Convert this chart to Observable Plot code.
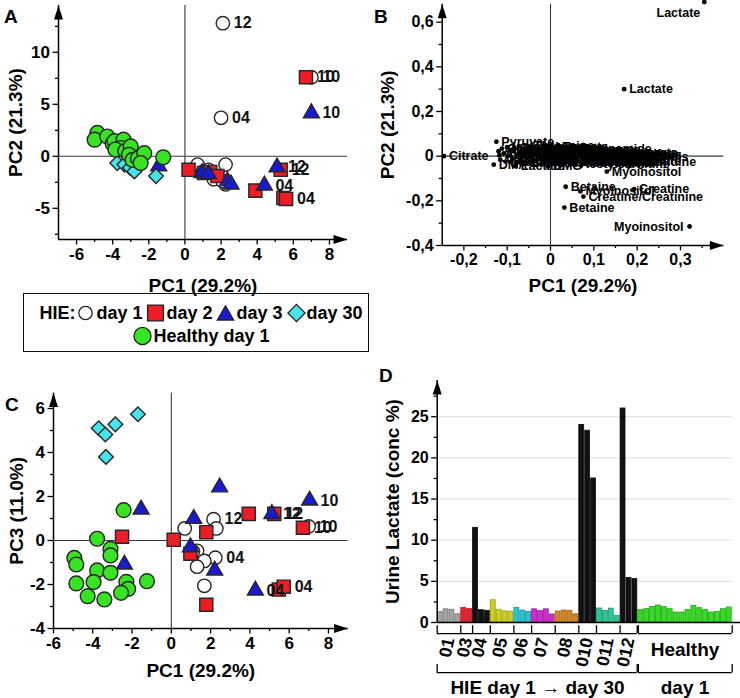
<!DOCTYPE html>
<html>
<head>
<meta charset="utf-8">
<script src="https://cdn.jsdelivr.net/npm/d3@7"></script>
<script src="https://cdn.jsdelivr.net/npm/@observablehq/plot@0.6"></script>
<style>
  html, body { margin: 0; padding: 0; background: #fff; }
  #root { position: relative; width: 740px; height: 698px; overflow: hidden; font-family: "Liberation Sans", Arial, Helvetica, sans-serif; color: #000; }
  .panel { position: absolute; }
  .letter { position: absolute; font-weight: bold; font-size: 19px; line-height: 1; }
  #legend { position: absolute; left: 23px; top: 293px; width: 346px; height: 59px; box-sizing: border-box; border: 1.5px solid #111; font-weight: bold; font-size: 18px; display: flex; flex-direction: column; align-items: center; justify-content: center; padding-top: 4px; padding-left: 10px; }
  #legend .row { display: flex; align-items: center; white-space: nowrap; line-height: 23px; }
  #legend svg { display: block; }
</style>
</head>
<body>
<div id="root"></div>
<script>
const FONT = '"Liberation Sans", Arial, Helvetica, sans-serif';

// ---------------- series definitions ----------------
const seriesNames   = ["HIE day 1", "HIE day 2", "HIE day 3", "HIE day 30", "Healthy day 1"];
const legendPrefix  = "HIE:";
const legendLabels  = ["day 1", "day 2", "day 3", "day 30", "Healthy day 1"];
const seriesSymbols = ["circle", "square", "triangle", "diamond2", "circle"];
const seriesFills   = ["#ffffff", "#ee1c24", "#1a1ad0", "#45e3ec", "#37e322"];

// ---------------- Panel A: scores PC1 vs PC2  [PC1, PC2, patient] ----------------
const aDay1 = [[2.1,12.8,"12"],[2.0,3.7,"04"],[7.0,7.6,"10"],[0.7,-0.8],[1.3,-1.3],[2.25,-0.8],[1.6,-2.2],[2.25,-2.7],[1.0,-1.5],[2.1,-2.4]];
const aDay2 = [[6.7,7.6,"10"],[0.2,-1.3],[1.05,-1.6],[1.4,-1.5],[1.8,-1.9],[3.9,-3.3],[5.3,-1.3,"12"],[5.45,-4.0],[5.6,-4.1,"04"]];
const aDay3 = [[7.0,4.15,"10"],[5.1,-1.05,"12"],[4.4,-2.8,"04"],[0.95,-1.6],[1.3,-1.7],[2.35,-2.4],[2.55,-2.7],[-1.45,-0.95]];
const aDay30 = [[-3.75,-0.65],[-3.35,-0.8],[-3.05,-1.1],[-2.8,-1.45],[-1.6,-1.9]];
const aHealthy = [[-4.85,2.25],[-5.0,1.6],[-4.3,1.9],[-4.0,1.2],[-3.9,1.45],[-3.4,1.6],[-3.55,0.8],[-3.85,0.65],[-3.3,0.5],[-3.0,0.95],[-3.1,0.15],[-2.9,-0.35],[-2.6,-0.2],[-2.25,0.3],[-2.45,-0.65],[-1.2,-0.1]];

// ---------------- Panel C: scores PC1 vs PC3 ----------------
const cDay1 = [[0.68,0.55],[2.15,0.97,"12"],[2.29,0.55],[1.31,-0.47],[1.1,-0.5],[2.24,-0.78,"04"],[1.68,-0.93],[1.31,-1.19],[1.68,-2.06],[6.99,0.64,"10"]];
const cDay2 = [[-2.51,0.17],[0.12,0.03],[0.97,-0.6],[1.78,0.38],[3.94,1.21],[5.24,1.21,"12"],[6.7,0.58,"10"],[5.47,-2.23],[5.72,-2.1,"04"],[1.78,-2.92]];
const cDay3 = [[-1.54,1.41],[-2.39,-1.09],[1.14,0.99],[0.97,-0.3],[2.46,2.42],[2.21,-1.36],[4.28,-2.27,"04"],[5.12,1.21,"12"],[7.04,1.82,"10"]];
const cDay30 = [[-3.7,5.1],[-3.36,4.82],[-2.85,5.28],[-1.7,5.74],[-3.33,3.8]];
const cHealthy = [[-2.43,1.38],[-3.78,0.08],[-3.1,-0.38],[-3.1,-0.68],[-4.94,-0.79],[-4.84,-1.09],[-3.78,-1.36],[-3.1,-1.47],[-4.84,-1.95],[-3.96,-1.89],[-2.29,-1.88],[-1.24,-1.85],[-2.2,-2.2],[-2.56,-2.38],[-4.26,-2.53],[-3.41,-2.68]];

// ---------------- Panel B: loadings [PC1, PC2, metabolite] ----------------
const bLoadings = [
  [-0.246, 0.000, "Citrate"], [-0.125, 0.065, "Pyruvate"], [-0.131, -0.038, "DMA"],
  [-0.080, -0.044, "Lactate"], [-0.006, -0.046, "DMG"],
  [-0.120, 0.022, "Acetone"], [-0.118, 0.004, "Alanine"], [-0.116, -0.016, "Valine"],
  [-0.112, 0.034, "Glycine"], [-0.108, 0.012, "Formate"], [-0.104, -0.024, "Leucine"],
  [-0.100, 0.040, "Isoleucine"], [-0.096, 0.002, "Acetate"], [-0.092, 0.024, "Succinate"],
  [-0.088, -0.012, "Glutamine"], [-0.083, 0.036, "Glutamate"], [-0.078, -0.028, "Taurine"],
  [-0.072, 0.014, "TMAO"], [-0.067, -0.006, "Urea"], [-0.061, 0.028, "Allantoin"],
  [-0.056, -0.032, "Lactose"], [-0.050, 0.044, "Threonine"], [-0.045, 0.002, "Tyrosine"],
  [-0.040, 0.020, "Histidine"], [-0.034, -0.020, "Fumarate"], [-0.029, 0.032, "Sarcosine"],
  [-0.024, 0.008, "Carnitine"], [-0.018, -0.014, "Glucose"], [-0.012, 0.038, "Malonate"],
  [-0.006, 0.000, "Xylose"], [0.000, 0.022, "Mannitol"], [0.006, -0.026, "Ethanolamine"],
  [0.011, 0.010, "Galactose"], [0.016, 0.040, "Tartrate"], [0.021, -0.010, "Lysine"],
  [0.026, 0.024, "Asparagine"], [0.031, -0.032, "Pseudouridine"], [0.036, 0.004, "Trigonelline"],
  [0.041, 0.030, "Nicotinamide"], [0.046, -0.016, "Pantothenate"], [0.051, 0.014, "Phenylalanine"],
  [0.057, -0.036, "Acetylcarnitine"], [0.062, 0.026, "Hippurate"], [0.067, -0.002, "Isobutyrate"],
  [0.073, -0.022, "Guanidoacetate"], [0.079, 0.018, "Ornithine"], [0.085, -0.008, "Aspartate"],
  [0.091, 0.008, "Indoxylsulfate"], [0.097, -0.028, "Methylguanidine"], [0.104, 0.012, "Oxoglutarate"],
  [0.111, -0.012, "Citrulline"], [0.118, 0.002, "Kynurenine"], [0.126, -0.020, "Uracil"],
  [0.134, 0.006, "Choline"], [0.142, -0.026, "Inosine"], [0.150, -0.006, "Malate"],
  [0.158, 0.004, "Methylhis"], [0.166, -0.016, "Serine"], [0.174, -0.004, "Methylhis"],
  [0.170, 0.300, "Lactate"], [0.355, 0.690, "Lactate"], [0.130, -0.069, "Myoinositol"],
  [0.035, -0.137, "Betaine"], [0.193, -0.148, "Creatine"], [0.069, -0.158, "Myoinositol"],
  [0.076, -0.181, "Creatine/Creatinine"], [0.032, -0.230, "Betaine"], [0.321, -0.315, "Myoinositol"]
];

// ---------------- Panel D: urine lactate (conc %) ----------------
const dGroupNames = ["01", "03", "04", "05", "06", "07", "08", "010", "011", "012"];
const d01  = [1.25, 1.6, 1.55, 1.0];
const d03  = [1.75, 1.62];
const d04  = [11.5, 1.5, 1.42];
const d05  = [2.7, 1.55, 1.35, 1.3];
const d06  = [1.75, 1.45, 1.3];
const d07  = [1.6, 1.38, 1.6, 0.97];
const d08  = [1.33, 1.45, 1.42, 1.0];
const d010 = [24.0, 23.3, 17.5];
const d011 = [1.7, 1.4, 1.68, 0.8];
const d012 = [26.0, 5.4, 5.3];
const dHealthy = [1.5, 1.62, 1.9, 2.06, 1.86, 1.62, 1.21, 1.21, 1.5, 2.02, 1.74, 1.5, 1.21, 1.3, 1.62, 1.82];
const dGroupColors = ["#a3a3a3", "#e8202a", "#111111", "#d0d020", "#26c6d2", "#d02ad0", "#d8841a", "#111111", "#2ac99a", "#111111"];
const dHealthyColor = "#33dd22";
const dHealthyName = "Healthy";
const dRowLabels = ["HIE day 1 \u2192 day 30", "day 1"];
const dYLabel = "Urine Lactate (conc %)";

// ---------------- helpers ----------------
const arrowHead = { draw(ctx) { ctx.moveTo(0, 0); ctx.lineTo(4.5, 14); ctx.lineTo(-4.5, 14); ctx.closePath(); } };
const seriesRadii = [6.7, 7.4, 5.9, 6.6, 7.4];
const xy = { x: d => d[0], y: d => d[1] };
const root = d3.select("#root");

function place(node, left, top, w, h) {
  root.append("div").attr("class", "panel")
    .style("left", left + "px").style("top", top + "px")
    .style("width", w + "px").style("height", h + "px")
    .node().appendChild(node);
}
function letter(t, left, top) {
  root.append("div").attr("class", "letter").style("left", left + "px").style("top", top + "px").text(t);
}

function frameMarks(cfg) {
  return [
    Plot.axisX({ticks: cfg.xMinor, tickSize: 3, tickFormat: () => "", label: null, strokeWidth: 1.3}),
    Plot.axisX({ticks: cfg.xMajor, tickSize: 5.5, tickPadding: 3, tickFormat: cfg.fmt, label: null, fontSize: cfg.tickFont, fontWeight: "bold", strokeWidth: 1.3}),
    Plot.axisY({ticks: cfg.yMinor, tickSize: 3, tickFormat: () => "", label: null, strokeWidth: 1.3}),
    Plot.axisY({ticks: cfg.yMajor, tickSize: 5.5, tickPadding: 3, tickFormat: cfg.fmt, label: null, fontSize: cfg.tickFont, fontWeight: "bold", strokeWidth: 1.3}),
    Plot.ruleY([cfg.y[0]], {stroke: "#000", strokeWidth: 1.5}),
    Plot.ruleX([cfg.x[0]], {stroke: "#000", strokeWidth: 1.5}),
    Plot.dot([[cfg.x[1], cfg.y[0]]], {...xy, symbol: arrowHead, r: 5, fill: "#000", rotate: 90}),
    Plot.dot([[cfg.x[0], cfg.y[1]]], {...xy, symbol: arrowHead, r: 5, fill: "#000"}),
    Plot.text([cfg.xLabel], {frameAnchor: "bottom", dy: cfg.xTitleDy, textAnchor: "middle", lineAnchor: "middle", fontSize: 19, fontWeight: "bold"}),
    Plot.text([cfg.yLabel], {frameAnchor: "left", dx: cfg.yTitleDx, rotate: -90, textAnchor: "middle", lineAnchor: "middle", fontSize: 19, fontWeight: "bold"})
  ];
}

function scatterPanel(cfg) {
  const marks = [
    Plot.ruleX([0], {stroke: "#3a3a3a", strokeWidth: 1.1}),
    Plot.ruleY([0], {stroke: "#3a3a3a", strokeWidth: 1.1}),
    ...frameMarks(cfg)
  ];
  cfg.series.forEach((rows, i) => {
    marks.push(Plot.dot(rows, {...xy, symbol: seriesSymbols[i], r: seriesRadii[i], fill: seriesFills[i], stroke: "#262626", strokeWidth: 1.4}));
  });
  cfg.series.forEach(rows => {
    marks.push(Plot.text(rows.filter(d => d[2]), {...xy, text: d => d[2], dx: 11, textAnchor: "start", lineAnchor: "middle", fontSize: 16, fontWeight: "bold", fill: "#111"}));
  });
  return Plot.plot({
    width: cfg.width, height: cfg.height,
    marginLeft: cfg.m[3], marginRight: cfg.m[1], marginTop: cfg.m[0], marginBottom: cfg.m[2],
    x: {domain: cfg.x}, y: {domain: cfg.y},
    style: {fontFamily: FONT, fontSize: "16px", background: "transparent", overflow: "visible", color: "#000"},
    marks
  });
}

const intFmt = d => String(d);
const commaFmt = d => d === 0 ? "0" : String(d).replace(".", ",");

// Panel A
place(scatterPanel({
  width: 370, height: 295, m: [5, 23, 56, 58],
  x: [-7, 9], y: [-8, 14.5],
  xMajor: [-6, -4, -2, 0, 2, 4, 6, 8], xMinor: [-5, -3, -1, 1, 3, 5, 7],
  yMajor: [-5, 0, 5, 10], yMinor: [-7.5, -2.5, 2.5, 7.5, 12.5],
  fmt: intFmt, tickFont: 17,
  xLabel: "PC1 (29.2%)", yLabel: "PC2 (21.3%)", xTitleDy: 46, yTitleDx: -43,
  series: [aDay1, aDay2, aDay3, aDay30, aHealthy]
}), 0, 0, 370, 295);

// Panel C
place(scatterPanel({
  width: 370, height: 318, m: [12.6, 22.4, 70, 53],
  x: [-6, 9], y: [-4, 6.7],
  xMajor: [-6, -4, -2, 0, 2, 4, 6, 8], xMinor: [-5, -3, -1, 1, 3, 5, 7],
  yMajor: [-4, -2, 0, 2, 4, 6], yMinor: [-3, -1, 1, 3, 5],
  fmt: intFmt, tickFont: 17,
  xLabel: "PC1 (29.2%)", yLabel: "PC3 (11.0%)", xTitleDy: 42, yTitleDx: -37,
  series: [cDay1, cDay2, cDay3, cDay30, cHealthy]
}), 0, 380, 370, 318);

// Panel B
(function () {
  const cfg = {
    x: [-0.25, 0.4], y: [-0.4, 0.68],
    xMajor: [-0.2, -0.1, 0, 0.1, 0.2, 0.3], xMinor: [-0.15, -0.05, 0.05, 0.15, 0.25, 0.35],
    yMajor: [-0.4, -0.2, 0, 0.2, 0.4, 0.6], yMinor: [-0.3, -0.1, 0.1, 0.3, 0.5],
    fmt: commaFmt, tickFont: 16,
    xLabel: "PC1 (29.2%)", yLabel: "PC2 (21.3%)", xTitleDy: 40, yTitleDx: -54
  };
  const right = bLoadings.filter(d => d[0] <= 0.3);
  const left = bLoadings.filter(d => d[0] > 0.3 && d[1] <= 0.6);
  const top = bLoadings.filter(d => d[0] > 0.3 && d[1] > 0.6);
  const tOpt = {...xy, text: d => d[2], lineAnchor: "middle", fontSize: 12.5, fontWeight: "bold", fill: "#000"};
  const chart = Plot.plot({
    width: 370, height: 295, marginLeft: 71.7, marginRight: 16.7, marginTop: 3.8, marginBottom: 50,
    x: {domain: cfg.x}, y: {domain: cfg.y},
    style: {fontFamily: FONT, fontSize: "16px", background: "transparent", overflow: "visible", color: "#000"},
    marks: [
      Plot.ruleX([0], {stroke: "#3a3a3a", strokeWidth: 1.1}),
      Plot.ruleY([0], {stroke: "#3a3a3a", strokeWidth: 1.1}),
      ...frameMarks(cfg),
      Plot.dot(bLoadings, {...xy, r: 2.4, fill: "#000"}),
      Plot.text(right, {...tOpt, dx: 5, textAnchor: "start"}),
      Plot.text(left, {...tOpt, dx: -6, textAnchor: "end"}),
      Plot.text(top, {...tOpt, dx: -4, dy: 11, textAnchor: "end"})
    ]
  });
  place(chart, 370, 0, 370, 295);
})();

// Panel D
(function () {
  const groupValues = [d01, d03, d04, d05, d06, d07, d08, d010, d011, d012];
  const bars = [], info = [];
  let i = 0;
  dGroupNames.forEach((g, k) => {
    const start = i;
    groupValues[k].forEach(v => { bars.push({i, v, fill: dGroupColors[k]}); i++; });
    info.push({name: g, start, end: i});
  });
  const hieEnd = i;
  dHealthy.forEach(v => { bars.push({i, v, fill: dHealthyColor}); i++; });
  const hEnd = i;
  const bounds = [-0.5, ...info.map(d => d.end - 0.5)];
  bounds[bounds.length - 1] = hieEnd - 0.6;
  const hieCenter = (hieEnd - 1) / 2, hCenter = (hieEnd + hEnd - 1) / 2;
  const chart = Plot.plot({
    width: 370, height: 328, marginLeft: 66.7, marginRight: 8.3, marginTop: 10, marginBottom: 76,
    x: {domain: [-0.5, hEnd - 0.5], axis: null}, y: {domain: [0, 29.4]},
    style: {fontFamily: FONT, fontSize: "16px", background: "transparent", overflow: "visible", color: "#000"},
    marks: [
      Plot.ruleY([5, 10, 15, 20, 25], {x1: -0.5, x2: hEnd - 0.5, stroke: "#dedede", strokeWidth: 1}),
      Plot.rect(bars, {x1: d => d.i - 0.5, x2: d => d.i + 0.5, y1: 0, y2: "v", fill: "fill",
        stroke: d => d3.color(d.fill).darker(0.9).formatHex(), strokeWidth: 0.8, insetLeft: 0.5, insetRight: 0.5}),
      Plot.axisY({ticks: [2.5, 7.5, 12.5, 17.5, 22.5, 27.5], tickSize: 3, tickFormat: () => "", label: null, strokeWidth: 1.3}),
      Plot.axisY({ticks: [0, 5, 10, 15, 20, 25], tickSize: 5.5, tickPadding: 3, label: null, fontSize: 16, fontWeight: "bold", strokeWidth: 1.3}),
      Plot.ruleX([-0.5], {y1: 0, y2: 29.4, stroke: "#000", strokeWidth: 1.5}),
      Plot.dot([[-0.5, 29.4]], {...xy, symbol: arrowHead, r: 5, fill: "#000"}),
      Plot.ruleY([0], {x1: -0.5, x2: hEnd + 1.2, stroke: "#000", strokeWidth: 1.5}),
      // first bracket row
      Plot.ruleX(bounds, {y1: -0.4, y2: -1.35, stroke: "#000", strokeWidth: 1.3}),
      Plot.ruleY([-1.35], {x1: -0.5, x2: hieEnd - 0.6, stroke: "#000", strokeWidth: 1.3}),
      Plot.ruleX([hieEnd - 0.4, hEnd - 0.5], {y1: -0.4, y2: -1.35, stroke: "#000", strokeWidth: 1.3}),
      Plot.ruleY([-1.35], {x1: hieEnd - 0.4, x2: hEnd - 0.5, stroke: "#000", strokeWidth: 1.3}),
      Plot.text(info, {x: d => (d.start + d.end - 1) / 2, y: -1.9, text: "name", rotate: -78, textAnchor: "end", lineAnchor: "middle", fontSize: 17.5, fontWeight: "bold"}),
      Plot.text([dHealthyName], {x: hCenter, y: -3.3, textAnchor: "middle", lineAnchor: "middle", fontSize: 19, fontWeight: "bold"}),
      // second bracket row
      Plot.ruleX([-0.5, hieEnd - 0.6], {y1: -5.1, y2: -6.1, stroke: "#000", strokeWidth: 1.3}),
      Plot.ruleY([-6.1], {x1: -0.5, x2: hieEnd - 0.6, stroke: "#000", strokeWidth: 1.3}),
      Plot.ruleX([hieEnd - 0.4, hEnd - 0.5], {y1: -5.1, y2: -6.1, stroke: "#000", strokeWidth: 1.3}),
      Plot.ruleY([-6.1], {x1: hieEnd - 0.4, x2: hEnd - 0.5, stroke: "#000", strokeWidth: 1.3}),
      Plot.text([dRowLabels[0]], {x: hieCenter, y: -7.9, textAnchor: "middle", lineAnchor: "middle", fontSize: 19, fontWeight: "bold"}),
      Plot.text([dRowLabels[1]], {x: hCenter, y: -7.9, textAnchor: "middle", lineAnchor: "middle", fontSize: 19, fontWeight: "bold"}),
      Plot.text([dYLabel], {frameAnchor: "left", dx: -44, rotate: -90, textAnchor: "middle", lineAnchor: "middle", fontSize: 19, fontWeight: "bold"})
    ]
  });
  place(chart, 370, 370, 370, 328);
})();

// Legend
(function () {
  const lg = root.append("div").attr("id", "legend");
  const symTypes = [d3.symbolCircle, d3.symbolSquare, d3.symbolTriangle, d3.symbolDiamond2, d3.symbolCircle];
  const symSizes = [140, 250, 115, 190, 230];
  const symDy = [0, 0, 2.3, 0, 0];
  function sym(row, k) {
    row.append("svg").attr("width", 19).attr("height", 20).style("margin", "0 1px 0 1px")
      .append("path").attr("transform", `translate(9.5,${10 + symDy[k]})`)
      .attr("d", d3.symbol(symTypes[k], symSizes[k])())
      .attr("fill", seriesFills[k]).attr("stroke", "#222").attr("stroke-width", 1.3);
  }
  const r1 = lg.append("div").attr("class", "row");
  r1.append("span").text(legendPrefix);
  for (let k = 0; k < 4; k++) {
    sym(r1, k);
    r1.append("span").text(legendLabels[k]).style("margin-right", k < 3 ? "3px" : "0");
  }
  const r2 = lg.append("div").attr("class", "row");
  sym(r2, 4);
  r2.append("span").text(legendLabels[4]);
})();

letter("A", 4, 7);
letter("B", 374, 7);
letter("C", 5, 395);
letter("D", 379, 366);
</script>
</body>
</html>
